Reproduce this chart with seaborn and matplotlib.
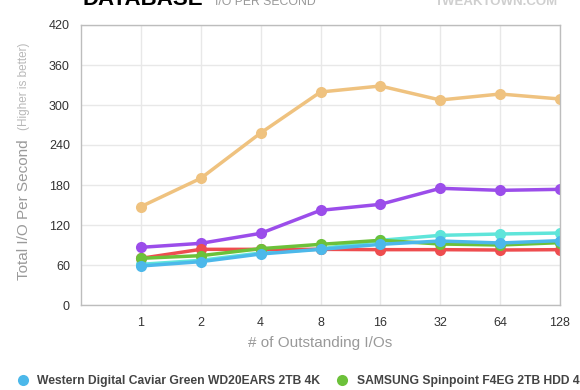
import pandas as pd
import numpy as np
import matplotlib
matplotlib.use("Agg")
import matplotlib.pyplot as plt
from matplotlib.lines import Line2D
import seaborn as sns

# outstanding I/Os (x categories)
queue_depths = ["1", "2", "4", "8", "16", "32", "64", "128"]

# Total I/O per second
wd_green = [58.5, 65, 76.5, 83.5, 91, 96, 93, 96.5]
samsung_f4 = [70, 74, 84.5, 91, 97, 91.5, 90, 93.5]
drive_cyan = [61, 67, 78, 84, 97, 104.5, 106.5, 108]
drive_red = [70, 83.5, 83.5, 83.5, 83, 83, 82.5, 83]
drive_purple = [86.5, 92.5, 107.5, 142, 151, 175, 172, 173.5]
drive_orange = [147.5, 190, 258, 319.5, 328.5, 307.5, 316.5, 309]

series = {
    "Drive F": drive_orange,
    "Drive E": drive_purple,
    "Drive D": drive_cyan,
    "Drive C": drive_red,
    "SAMSUNG Spinpoint F4EG 2TB HDD 4K": samsung_f4,
    "Western Digital Caviar Green WD20EARS 2TB 4K": wd_green,
}
colors = {
    "Drive F": "#efc27f",
    "Drive E": "#9b4dea",
    "Drive D": "#5fe5da",
    "Drive C": "#ee4d4f",
    "SAMSUNG Spinpoint F4EG 2TB HDD 4K": "#6cc13a",
    "Western Digital Caviar Green WD20EARS 2TB 4K": "#4cb8ea",
}

rows = []
for name, vals in series.items():
    for i, v in enumerate(vals):
        rows.append({"drive": name, "pos": i + 1, "iops": v})
df = pd.DataFrame(rows)

sns.set_style("white")
plt.rcParams["font.family"] = ["Liberation Sans", "DejaVu Sans"]

fig = plt.figure(figsize=(5.8, 3.9), dpi=100)
ax = fig.add_axes([81 / 580, 1 - 305 / 390, (560 - 81) / 580, (305 - 25) / 390])

sns.lineplot(data=df, x="pos", y="iops", hue="drive", hue_order=list(series.keys()),
             palette=colors, marker="o", markersize=8, markeredgewidth=0,
             linewidth=2.5, legend=False, ax=ax)

ax.set_xlim(0, 8)
ax.set_ylim(0, 420)
ax.set_xticks(range(1, 9))
ax.set_xticklabels(queue_depths)
ax.set_yticks(np.arange(0, 421, 60))
ax.grid(True, color="#e8e8e8", linewidth=1)
ax.set_axisbelow(True)
for sp in ax.spines.values():
    sp.set_color("#bdbdbd")
    sp.set_linewidth(1)
ax.tick_params(axis="both", length=0, labelsize=9, colors="#333333", pad=8)
ax.tick_params(axis="x", pad=9)
ax.set_xlabel("# of Outstanding I/Os", fontsize=11, color="#999999", labelpad=5)
ax.set_ylabel("")

# y label, split into two parts like the original
fig.text(24 / 580, 1 - 210 / 390, "Total I/O Per Second", rotation=90, ha="center",
         va="center", fontsize=11, color="#9a9a9a")
fig.text(24 / 580, 1 - 86 / 390, "(Higher is better)", rotation=90, ha="center",
         va="center", fontsize=8.5, color="#b8b8b8")

# title, cut at the top edge
fig.text(82 / 580, 1 - 5 / 390, "DATABASE", fontsize=16, fontweight="bold",
         color="black", ha="left", va="baseline")
fig.text(215 / 580, 1 - 5 / 390, "I/O PER SECOND", fontsize=8.8, color="#999999",
         ha="left", va="baseline")
fig.text(558 / 580, 1 - 5 / 390, "TWEAKTOWN.COM", fontsize=9.5, fontweight="bold",
         color="#cfcfcf", ha="right", va="baseline")

# legend, only the first row fits in the picture
handles = [
    Line2D([], [], marker="o", linestyle="none", markersize=8, markeredgewidth=0,
           color=colors["Western Digital Caviar Green WD20EARS 2TB 4K"]),
    Line2D([], [], marker="o", linestyle="none", markersize=8, markeredgewidth=0,
           color=colors["SAMSUNG Spinpoint F4EG 2TB HDD 4K"]),
]
labels = ["Western Digital Caviar Green WD20EARS 2TB 4K", "SAMSUNG Spinpoint F4EG 2TB HDD 4K"]
leg = fig.legend(handles, labels, loc="center left", bbox_to_anchor=(12 / 580, 1 - 381 / 390),
                 ncol=2, frameon=False, fontsize=8.7, handletextpad=0.7, columnspacing=1.3,
                 borderaxespad=0, handlelength=1)
for t in leg.get_texts():
    t.set_color("#444444")
    t.set_fontweight("bold")

fig.savefig("out.png", dpi=100)
